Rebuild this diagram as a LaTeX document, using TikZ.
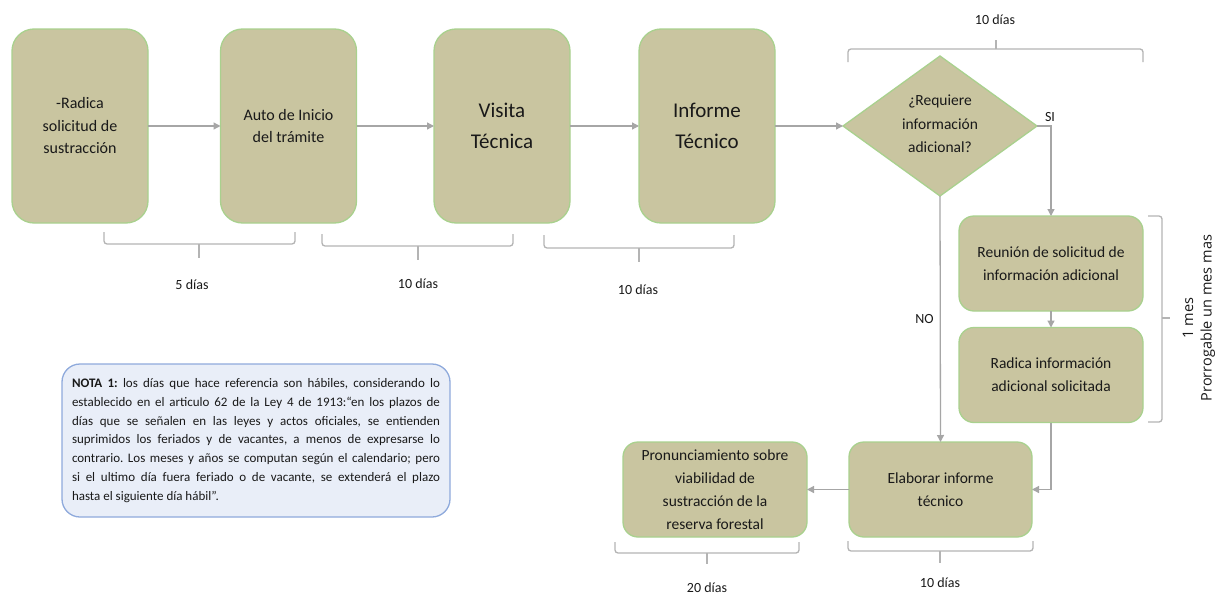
\documentclass[tikz,border=0pt]{standalone}
\usepackage{fontspec}
\setmainfont{Carlito}
\newfontfamily\sidefont{Open Sans}
\usetikzlibrary{shapes.geometric,arrows.meta}
\definecolor{boxfill}{RGB}{201,197,160}
\definecolor{boxline}{RGB}{169,209,142}
\definecolor{conn}{RGB}{166,166,166}
\definecolor{brk}{RGB}{180,180,180}
\definecolor{notefill}{RGB}{233,238,248}
\definecolor{noteline}{RGB}{143,170,220}
\definecolor{txt}{RGB}{25,25,25}
\frenchspacing
\begin{document}
\begin{tikzpicture}[x=1pt,y=-1pt,
  every node/.style={text=txt},
  bigbox/.style={draw=boxline, fill=boxfill, line width=1.3pt, rounded corners=22pt, minimum width=136pt, minimum height=194pt, inner sep=0pt, outer sep=0pt, align=center},
  smallbox/.style={draw=boxline, fill=boxfill, line width=1.3pt, rounded corners=15pt, minimum width=184pt, minimum height=95pt, inner sep=0pt, outer sep=0pt, align=center, font=\fontsize{15.5}{23}\selectfont},
  flow/.style={draw=conn, line width=1.3pt, -{Triangle[length=7pt,width=7pt]}},
  bracket/.style={draw=brk, line width=1.3pt, rounded corners=3pt},
  lbl/.style={font=\fontsize{14}{16}\selectfont, inner sep=0pt}
]
\useasboundingbox (0,0) rectangle (1227,597);
\fill[white] (0,0) rectangle (1227,597);

% top row
\node[bigbox, font=\fontsize{16}{22.5}\selectfont] (b1) at (80,126) {-Radica\\solicitud de\\sustracción};
\node[bigbox, font=\fontsize{16}{22}\selectfont] (b2) at (288.5,126) {Auto de Inicio\\del trámite};
\node[bigbox, font=\fontsize{21}{31}\selectfont] (b3) at (502,126) {Visita\\Técnica};
\node[bigbox, font=\fontsize{21}{31}\selectfont] (b4) at (707,126) {Informe\\Técnico};

% decision
\node[diamond, draw=boxline, fill=boxfill, line width=1.3pt, minimum width=194pt, minimum height=140pt, inner sep=0pt, outer sep=0pt, aspect=1.386] (dec) at (940,126) {};
\node[font=\fontsize{15.5}{23.5}\selectfont, align=center] (dect) at (940,124) {¿Requiere\\información\\adicional?};

% right column and bottom row
\node[smallbox] (reu) at (1051,263.5) {Reunión de solicitud de\\información adicional};
\node[smallbox] (rad) at (1051,375) {Radica información\\adicional solicitada};
\node[smallbox, minimum width=183pt] (elab) at (940.5,489.5) {Elaborar informe\\técnico};
\node[smallbox] (pron) at (715,489.5) {Pronunciamiento sobre\\viabilidad de\\sustracción de la\\reserva forestal};

% connectors
\draw[flow] (b1) -- (b2);
\draw[flow] (b2) -- (b3);
\draw[flow] (b3) -- (b4);
\draw[flow] (b4) -- (dec);
\draw[flow] (dec.east) -| node[lbl, pos=0.5, above=4pt, xshift=-1pt] {SI} (reu.north);
\draw[flow] (dec.south) -- node[lbl, pos=0.5, left=6pt] {NO} (elab.north);
\draw[flow] (reu) -- (rad);
\draw[flow] (rad.south) |- (elab.east);
\draw[flow] (elab) -- (pron);

% brackets
\draw[bracket] (104,232) -- (104,244) -- (295,244) -- (295,232);
\draw[bracket] (199,244) -- (199,258);
\draw[bracket] (322,234) -- (322,246) -- (513,246) -- (513,234);
\draw[bracket] (418,246) -- (418,260);
\draw[bracket] (544,235) -- (544,248) -- (734,248) -- (734,235);
\draw[bracket] (639,248) -- (639,262);
\draw[bracket] (848,62) -- (848,49) -- (1143,49) -- (1143,62);
\draw[bracket] (996,49) -- (996,40);
\draw[bracket] (615,542) -- (615,553) -- (799,553) -- (799,542);
\draw[bracket] (707,553) -- (707,564);
\draw[bracket] (848,541) -- (848,551) -- (1033,551) -- (1033,541);
\draw[bracket] (940,551) -- (940,563);
\draw[bracket] (1148,216) -- (1162,216) -- (1162,422) -- (1148,422);
\draw[bracket] (1162,318) -- (1170,318);

% bracket labels
\node[lbl] (t1) at (192,285) {5 días};
\node[lbl] (t2) at (418,284) {10 días};
\node[lbl] (t3) at (638,290) {10 días};
\node[lbl] (t4) at (995,20) {10 días};
\node[lbl] (t5) at (707,588) {20 días};
\node[lbl] (t6) at (940,583) {10 días};
\node[rotate=90, align=center, inner sep=0pt, font=\sidefont\fontsize{14.5}{18.5}\selectfont] (side) at (1199,318) {1 mes\\Prorrogable un mes mas};

% note
\node[draw=noteline, fill=notefill, line width=1.3pt, rounded corners=18pt, minimum width=388pt, minimum height=153pt, text width=368pt, inner xsep=10pt, inner ysep=0pt, align=justify, font=\fontsize{13}{18.8}\selectfont] (note) at (256,440.5)
{\textbf{NOTA 1:} los días que hace referencia son hábiles, considerando lo\linebreak
establecido en el articulo 62 de la Ley 4 de 1913:“en los plazos de\linebreak
días que se señalen en las leyes y actos oficiales, se entienden\linebreak
suprimidos los feriados y de vacantes, a menos de expresarse lo\linebreak
contrario. Los meses y años se computan según el calendario; pero\linebreak
si el ultimo día fuera feriado o de vacante, se extenderá el plazo\linebreak
hasta el siguiente día hábil”.};
\end{tikzpicture}
\end{document}
